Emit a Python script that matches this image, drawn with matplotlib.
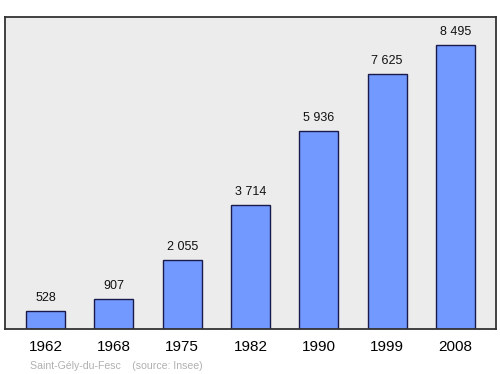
import matplotlib
matplotlib.use("Agg")
import matplotlib.pyplot as plt

plt.rcParams["font.family"] = ["Liberation Sans", "DejaVu Sans"]

years = ["1962", "1968", "1975", "1982", "1990", "1999", "2008"]
population = [528, 907, 2055, 3714, 5936, 7625, 8495]
value_labels = ["528", "907", "2 055", "3 714", "5 936", "7 625", "8 495"]

fig = plt.figure(figsize=(5, 3.74), dpi=100)
ax = fig.add_axes([0.01, 0.1203, 0.982, 0.834])
ax.set_facecolor("#ececec")

x = range(len(years))
ax.bar(x, population, width=0.57, color="#7299ff", edgecolor="#1a1a4a", linewidth=1.0, zorder=2)

# valeurs au-dessus des barres
for i, (v, lab) in enumerate(zip(population, value_labels)):
    ax.annotate(lab, (i, v), xytext=(0, 5), textcoords="offset points",
                ha="center", va="bottom", fontsize=9, color="#111111")

ax.set_xlim(-0.593, len(years) - 1 + 0.593)
ax.set_ylim(0, 9332)
ax.set_xticks(list(x))
ax.set_xticklabels(years, fontsize=11)
ax.tick_params(axis="x", length=0, pad=8)
ax.set_yticks([])
for s in ax.spines.values():
    s.set_linewidth(1.3)
    s.set_color("#333333")

fig.text(0.06, 0.014, "Saint-Gély-du-Fesc    (source: Insee)", fontsize=7.6, color="#b0b0b0")

fig.savefig("out.png", dpi=100)
